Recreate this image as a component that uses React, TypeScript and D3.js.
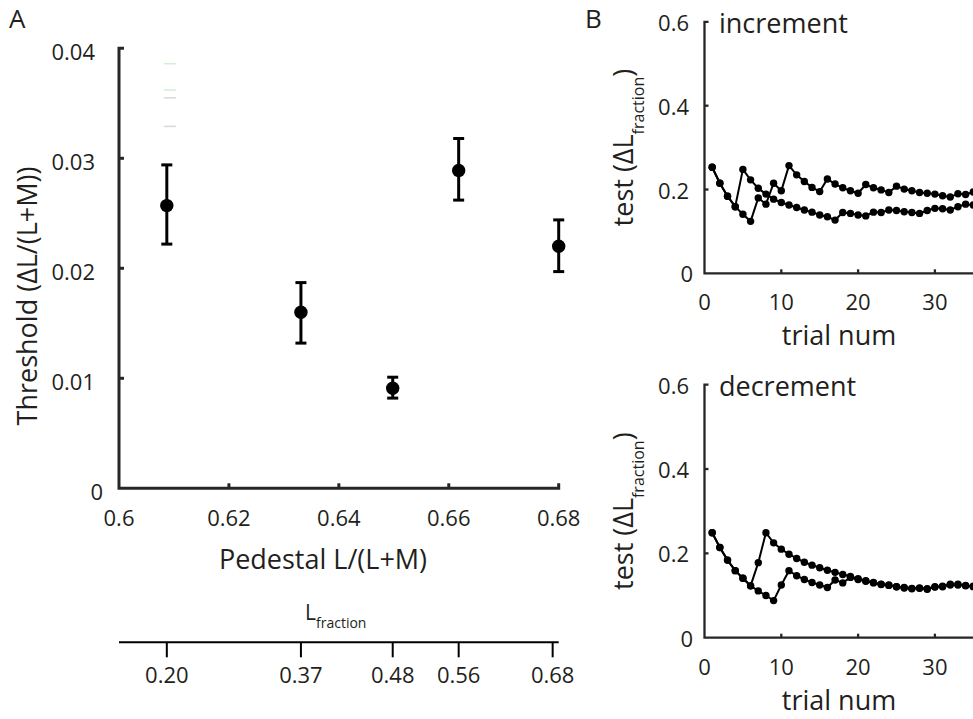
import React from 'react';
import * as d3 from 'd3';

// ---------- Panel A data ----------
const pedestal = [0.6087, 0.6331, 0.6498, 0.6618, 0.68];
const threshold = [0.0257, 0.016, 0.0091, 0.0289, 0.022];
const thresholdLo = [0.0222, 0.0132, 0.0082, 0.0262, 0.0197];
const thresholdHi = [0.0294, 0.0187, 0.0101, 0.0318, 0.0244];
const yTicksA = [0, 0.01, 0.02, 0.03, 0.04];
const yTickLabelsA = ['0', '0.01', '0.02', '0.03', '0.04'];
const xTicksA = [0.6, 0.62, 0.64, 0.66, 0.68];
const xTickLabelsA = ['0.6', '0.62', '0.64', '0.66', '0.68'];
const lFractionLabels = ['0.20', '0.37', '0.48', '0.56', '0.68'];
const lFractionAt = [0.6087, 0.6331, 0.6498, 0.6618, 0.6789];
const faintLevels = [0.0386, 0.0362, 0.0355, 0.0329];
const faintColors = ['#d3eed3', '#d3eed3', '#d8d8d8', '#d8d8d8'];

// ---------- Panel B data ----------
const incUp = [0.253, 0.215, 0.184, 0.159, 0.141, 0.124, 0.18, 0.165, 0.215, 0.197, 0.257, 0.235, 0.219, 0.205, 0.195, 0.225, 0.213, 0.204, 0.197, 0.191, 0.212, 0.204, 0.199, 0.193, 0.208, 0.201, 0.197, 0.193, 0.191, 0.189, 0.185, 0.182, 0.19, 0.188, 0.194, 0.192];
const incDown = [0.253, 0.215, 0.184, 0.159, 0.248, 0.223, 0.203, 0.189, 0.177, 0.169, 0.163, 0.157, 0.151, 0.146, 0.139, 0.135, 0.127, 0.145, 0.143, 0.139, 0.137, 0.146, 0.145, 0.151, 0.15, 0.147, 0.145, 0.143, 0.15, 0.155, 0.154, 0.151, 0.159, 0.165, 0.163, 0.161];
const decUp = [0.249, 0.214, 0.184, 0.159, 0.141, 0.123, 0.178, 0.249, 0.225, 0.21, 0.198, 0.188, 0.179, 0.172, 0.166, 0.16, 0.155, 0.15, 0.145, 0.14, 0.135, 0.131, 0.127, 0.125, 0.121, 0.119, 0.117, 0.117, 0.115, 0.121, 0.121, 0.127, 0.125, 0.123, 0.121, 0.12];
const decDown = [0.249, 0.214, 0.184, 0.159, 0.141, 0.123, 0.111, 0.1, 0.088, 0.125, 0.159, 0.147, 0.138, 0.131, 0.125, 0.119, 0.137, 0.13, 0.143, 0.138, 0.134, 0.13, 0.126, 0.124, 0.121, 0.118, 0.116, 0.118, 0.116, 0.12, 0.122, 0.125, 0.127, 0.124, 0.122, 0.12];
const yTicksB = [0, 0.2, 0.4, 0.6];
const yTickLabelsB = ['0', '0.2', '0.4', '0.6'];
const xTicksB = [0, 10, 20, 30];
const xTickLabelsB = ['0', '10', '20', '30'];

const FONT = "'Open Sans', 'Noto Sans', sans-serif";
const TXT = '#231f20';
const AX = '#262626';
const TICK_FS = 22;
const TITLE_FS = 27;

const W = 973;
const H = 719;

// scales
const xA = d3.scaleLinear().domain([0.6, 0.68]).range([119, 558.7]);
const yA = d3.scaleLinear().domain([0, 0.04]).range([488.3, 48.3]);
const xB = d3.scaleLinear().domain([0, 40]).range([704.5, 704.5 + 307.2]);
const yInc = d3.scaleLinear().domain([0, 0.6]).range([273.3, 21.9]);
const yDec = d3.scaleLinear().domain([0, 0.6]).range([637.7, 384.7]);

function StairPanel({ y, up, down, title }: { y: d3.ScaleLinear<number, number>; up: number[]; down: number[]; title: string }) {
  const x0 = xB(0);
  const y0 = y(0);
  const line = d3
    .line<number>()
    .x((_, i) => xB(i + 1))
    .y((d) => y(d));
  const axisPath = `M${x0 + 4},${y(0.6)} H${x0} V${y0} H${W + 20}`;
  const midY = (y(0) + y(0.6)) / 2;
  return (
    <g>
      <path d={axisPath} fill="none" stroke={AX} strokeWidth={2.3} />
      {yTicksB.filter((t) => t > 0 && t < 0.6).map((t) => (
        <line key={t} x1={x0} x2={x0 + 4} y1={y(t)} y2={y(t)} stroke={AX} strokeWidth={2.3} />
      ))}
      {xTicksB.filter((t) => t > 0).map((t) => (
        <line key={t} x1={xB(t)} x2={xB(t)} y1={y0} y2={y0 - 4} stroke={AX} strokeWidth={2.3} />
      ))}
      {yTicksB.map((t, i) => (
        <text key={t} x={t === 0 ? 693 : 689} y={y(t) + 9} textAnchor="end" fontSize={TICK_FS} fill={TXT} fontFamily={FONT}>
          {yTickLabelsB[i]}
        </text>
      ))}
      {xTicksB.map((t, i) => (
        <text key={t} x={xB(t)} y={y0 + 37} textAnchor="middle" fontSize={TICK_FS} fill={TXT} fontFamily={FONT}>
          {xTickLabelsB[i]}
        </text>
      ))}
      <text x={839} y={y0 + 72} textAnchor="middle" fontSize={TITLE_FS} fill={TXT} fontFamily={FONT}>trial num</text>
      <text x={719} y={y(0.6) + 11} fontSize={TITLE_FS} fill={TXT} fontFamily={FONT}>{title}</text>
      <text transform={`translate(633,${midY}) rotate(-90)`} textAnchor="middle" fontSize={TITLE_FS} fill={TXT} fontFamily={FONT}>
        test (ΔL<tspan dy={11} fontSize={16}>fraction</tspan><tspan dy={-11}>)</tspan>
      </text>
      {[up, down].map((s, k) => (
        <g key={k}>
          <path d={line(s) || ''} fill="none" stroke="#000" strokeWidth={2} />
          {s.map((v, i) => (
            <circle key={i} cx={xB(i + 1)} cy={y(v)} r={3.7} fill="#000" />
          ))}
        </g>
      ))}
    </g>
  );
}

export default function App() {
  const x0 = xA(0.6);
  const y0 = yA(0);
  const axisA = `M${x0 + 5},${yA(0.04)} H${x0} V${y0} H${xA(0.68)} V${y0 - 5}`;
  const lfY = 642.3;
  return (
    <svg width={W} height={H} viewBox={`0 0 ${W} ${H}`} style={{ position: 'absolute', left: 0, top: 0, background: '#fff' }}>
      <rect x={0} y={0} width={W} height={H} fill="#fff" />
      {/* Panel letters */}
      <text x={9} y={28} fontSize={26} fill={TXT} fontFamily={FONT}>A</text>
      <text x={585} y={28} fontSize={26} fill={TXT} fontFamily={FONT}>B</text>

      {/* Panel A axes */}
      <path d={axisA} fill="none" stroke={AX} strokeWidth={3} strokeLinejoin="miter" />
      {yTicksA.filter((t) => t > 0 && t < 0.04).map((t) => (
        <line key={t} x1={x0} x2={x0 + 5} y1={yA(t)} y2={yA(t)} stroke={AX} strokeWidth={3} />
      ))}
      {xTicksA.filter((t) => t > 0.6 && t < 0.68).map((t) => (
        <line key={t} x1={xA(t)} x2={xA(t)} y1={y0} y2={y0 - 5} stroke={AX} strokeWidth={3} />
      ))}
      {yTicksA.map((t, i) => (
        <text key={t} x={t === 0 ? 103 : 95} y={yA(t) + 12} textAnchor="end" fontSize={TICK_FS} fill={TXT} fontFamily={FONT}>
          {yTickLabelsA[i]}
        </text>
      ))}
      {xTicksA.map((t, i) => (
        <text key={t} x={xA(t)} y={y0 + 38} textAnchor="middle" fontSize={TICK_FS} fill={TXT} fontFamily={FONT}>
          {xTickLabelsA[i]}
        </text>
      ))}
      <text x={323} y={569} textAnchor="middle" fontSize={TITLE_FS} fill={TXT} fontFamily={FONT}>Pedestal L/(L+M)</text>
      <text transform={`translate(37,296) rotate(-90)`} textAnchor="middle" fontSize={TITLE_FS} fill={TXT} fontFamily={FONT}>
        Threshold (ΔL/(L+M))
      </text>

      {/* faint marks */}
      {faintLevels.map((v, i) => (
        <line key={i} x1={xA(pedestal[0]) - 3} x2={xA(pedestal[0]) + 9} y1={yA(v)} y2={yA(v)} stroke={faintColors[i]} strokeWidth={1.5} />
      ))}

      {/* error bars and points */}
      {pedestal.map((p, i) => (
        <g key={i}>
          <line x1={xA(p)} x2={xA(p)} y1={yA(thresholdLo[i])} y2={yA(thresholdHi[i])} stroke="#000" strokeWidth={3} />
          <line x1={xA(p) - 5.5} x2={xA(p) + 5.5} y1={yA(thresholdLo[i])} y2={yA(thresholdLo[i])} stroke="#000" strokeWidth={3} />
          <line x1={xA(p) - 5.5} x2={xA(p) + 5.5} y1={yA(thresholdHi[i])} y2={yA(thresholdHi[i])} stroke="#000" strokeWidth={3} />
          <circle cx={xA(p)} cy={yA(threshold[i])} r={6.7} fill="#000" />
        </g>
      ))}

      {/* L_fraction axis */}
      <line x1={xA(0.6)} x2={xA(0.68)} y1={lfY} y2={lfY} stroke="#000" strokeWidth={2} />
      {lFractionAt.map((p, i) => (
        <g key={i}>
          <line x1={xA(p)} x2={xA(p)} y1={lfY} y2={lfY + 15} stroke="#000" strokeWidth={2} />
          <text x={xA(p)} y={lfY + 41} textAnchor="middle" fontSize={TICK_FS} fill={TXT} fontFamily={FONT}>
            {lFractionLabels[i]}
          </text>
        </g>
      ))}
      <text x={305} y={620} fontSize={21} fill={TXT} fontFamily={FONT}>
        L<tspan dy={8} fontSize={14}>fraction</tspan>
      </text>

      {/* Panel B */}
      <StairPanel y={yInc} up={incUp} down={incDown} title="increment" />
      <StairPanel y={yDec} up={decUp} down={decDown} title="decrement" />
    </svg>
  );
}
